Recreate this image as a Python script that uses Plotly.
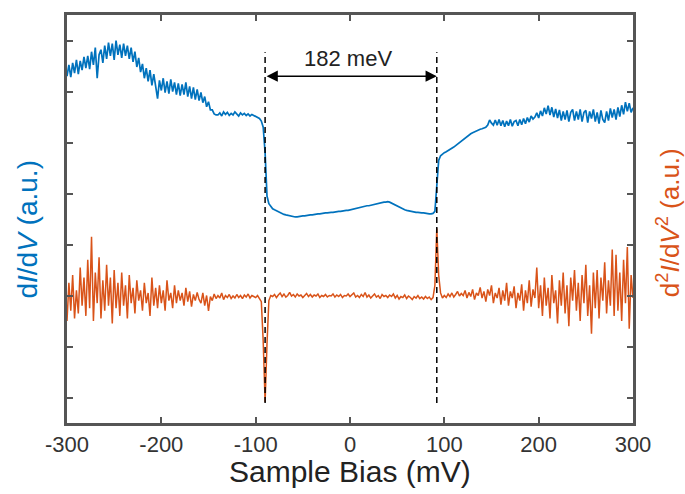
import plotly.graph_objects as go

# Sample bias grid (mV)
bias = [-300 + 2 * i for i in range(301)]

# dI/dV (a.u.)
didv = [
    6.80, 7.02, 6.78, 7.06, 6.86, 7.12, 6.84, 7.10, 6.92, 7.18,
    6.96, 7.20, 6.94, 7.28, 7.02, 7.36, 6.76, 7.22, 7.32, 7.06,
    7.40, 7.14, 7.46, 7.20, 7.44, 7.12, 7.50, 7.22, 7.42, 7.16,
    7.44, 7.20, 7.40, 7.14, 7.36, 7.08, 7.28, 6.98, 7.16, 6.88,
    7.04, 6.76, 6.96, 6.70, 6.92, 6.62, 6.84, 6.56, 6.36, 6.72,
    6.52, 6.76, 6.48, 6.70, 6.46, 6.74, 6.50, 6.68, 6.44, 6.66,
    6.42, 6.64, 6.44, 6.68, 6.40, 6.60, 6.36, 6.58, 6.34, 6.54,
    6.32, 6.48, 6.28, 6.40, 6.20, 6.30, 6.14, 6.14, 6.06, 6.04,
    6.04, 6.08, 6.02, 6.10, 6.05, 6.09, 6.03, 6.07, 6.04, 6.10,
    6.06, 6.02, 6.08, 6.04, 6.07, 6.03, 6.06, 6.02, 6.05, 6.03,
    6.02, 6.00, 5.97, 5.92, 5.80, 5.30, 4.45, 4.30, 4.24, 4.20,
    4.18, 4.16, 4.14, 4.12, 4.10, 4.09, 4.08, 4.07, 4.06, 4.05,
    4.05, 4.04, 4.04, 4.05, 4.05, 4.06, 4.06, 4.07, 4.07, 4.08,
    4.08, 4.09, 4.09, 4.10, 4.10, 4.11, 4.11, 4.12, 4.12, 4.13,
    4.13, 4.13, 4.14, 4.14, 4.15, 4.15, 4.16, 4.16, 4.17, 4.17,
    4.18, 4.19, 4.19, 4.20, 4.21, 4.22, 4.23, 4.24, 4.25, 4.26,
    4.26, 4.27, 4.28, 4.29, 4.30, 4.30, 4.31, 4.32, 4.33, 4.33,
    4.34, 4.33, 4.31, 4.29, 4.27, 4.25, 4.23, 4.21, 4.20, 4.18,
    4.17, 4.16, 4.15, 4.14, 4.14, 4.13, 4.13, 4.12, 4.12, 4.12,
    4.11, 4.11, 4.10, 4.10, 4.11, 4.15, 4.75, 5.15, 5.24, 5.28,
    5.30, 5.32, 5.34, 5.36, 5.38, 5.41, 5.44, 5.47, 5.50, 5.53,
    5.55, 5.58, 5.61, 5.64, 5.67, 5.69, 5.71, 5.73, 5.74, 5.76,
    5.77, 5.78, 5.80, 5.84, 5.94, 5.88, 5.84, 5.94, 5.84, 5.95,
    5.83, 5.93, 5.81, 5.92, 5.83, 5.95, 5.82, 5.91, 5.93, 5.83,
    5.95, 5.85, 5.97, 5.87, 5.99, 5.90, 6.02, 5.96, 6.00, 6.08,
    5.98, 6.12, 6.02, 6.18, 6.06, 6.22, 6.04, 6.19, 6.00, 6.16,
    5.98, 6.14, 5.93, 6.11, 5.95, 6.13, 5.91, 6.09, 6.15, 5.93,
    6.11, 5.95, 6.15, 5.91, 6.09, 6.13, 5.89, 6.11, 5.97, 6.15,
    5.91, 6.09, 5.87, 6.13, 5.95, 5.89, 6.11, 5.93, 6.17, 5.99,
    6.15, 5.95, 6.19, 6.01, 6.23, 6.05, 6.29, 6.11, 6.27, 6.09,
    6.18,
]

# d2I/dV2 (a.u.)
d2idv2 = [
    2.00, 2.75, 2.20, 2.90, 2.05, 2.60, 2.15, 3.05, 2.30, 2.85,
    2.10, 3.20, 2.25, 3.65, 2.00, 2.95, 2.35, 3.25, 2.05, 2.80,
    2.20, 3.10, 2.30, 2.85, 1.95, 3.00, 2.25, 2.75, 2.10, 2.95,
    2.30, 2.70, 2.05, 2.90, 2.35, 2.65, 2.15, 2.80, 2.40, 2.60,
    2.20, 2.75, 2.35, 2.55, 2.10, 2.85, 2.30, 2.65, 2.25, 2.70,
    2.35, 2.60, 2.20, 2.80, 2.40, 2.55, 2.25, 2.70, 2.35, 2.60,
    2.40, 2.55, 2.30, 2.65, 2.38, 2.58, 2.28, 2.52, 2.40, 2.56,
    2.42, 2.35, 2.55, 2.30, 2.50, 2.20, 2.48, 2.40, 2.53, 2.44,
    2.50, 2.45, 2.55, 2.42, 2.50, 2.46, 2.52, 2.44, 2.49, 2.45,
    2.52, 2.46, 2.50, 2.44, 2.51, 2.47, 2.53, 2.45, 2.50, 2.48,
    2.46, 2.50, 2.44, 2.38, 1.60, 0.41, 1.55, 2.40, 2.50, 2.48,
    2.52, 2.46, 2.51, 2.55, 2.48, 2.53, 2.47, 2.50, 2.56, 2.49,
    2.52, 2.47, 2.53, 2.49, 2.51, 2.46, 2.50, 2.54, 2.48, 2.52,
    2.47, 2.51, 2.49, 2.53, 2.46, 2.50, 2.48, 2.52, 2.47, 2.50,
    2.49, 2.53, 2.47, 2.51, 2.48, 2.52, 2.46, 2.50, 2.49, 2.53,
    2.48, 2.51, 2.55, 2.47, 2.50, 2.46, 2.52, 2.48, 2.56, 2.47,
    2.51, 2.45, 2.49, 2.53, 2.47, 2.50, 2.44, 2.52, 2.48, 2.50,
    2.46, 2.51, 2.48, 2.53, 2.45, 2.50, 2.43, 2.48, 2.46, 2.51,
    2.44, 2.49, 2.46, 2.42, 2.48, 2.45, 2.50, 2.44, 2.47, 2.43,
    2.48, 2.44, 2.47, 2.42, 2.46, 2.70, 3.82, 2.90, 2.55, 2.45,
    2.50, 2.46, 2.53, 2.48, 2.55, 2.47, 2.52, 2.58, 2.49, 2.54,
    2.50, 2.60, 2.45, 2.56, 2.48, 2.62, 2.42, 2.55, 2.50, 2.66,
    2.45, 2.58, 2.38, 2.62, 2.50, 2.70, 2.35, 2.55, 2.45, 2.65,
    2.32, 2.60, 2.40, 2.75, 2.30, 2.58, 2.45, 2.68, 2.25, 2.55,
    2.40, 2.72, 2.20, 2.60, 2.35, 2.80, 2.28, 2.62, 2.45, 3.05,
    2.25, 2.70, 2.10, 2.85, 2.30, 2.65, 2.05, 2.90, 2.35, 2.60,
    1.95, 2.80, 2.30, 2.95, 2.15, 2.70, 1.90, 2.85, 2.40, 3.00,
    2.20, 2.75, 2.00, 2.90, 2.35, 3.10, 2.10, 2.70, 1.75, 2.95,
    2.25, 3.00, 2.05, 2.85, 2.40, 3.15, 2.15, 2.80, 2.30, 3.40,
    2.10, 3.30, 2.20, 2.95, 2.00, 3.20, 2.35, 3.45, 1.85, 2.90,
    2.45,
]

x_ticks = [-300, -200, -100, 0, 100, 200, 300]
x_tick_labels = ["-300", "-200", "-100", "0", "100", "200", "300"]
y_ticks = [0.5, 1.5, 2.5, 3.5, 4.5, 5.5, 6.5, 7.5]

gap_edges = [-90, 92]
gap_label = "182 meV"

BLUE = "#0072BD"
ORANGE = "#D95319"
FRAME = "#555555"
FONT = "Liberation Sans, Arial, sans-serif"

fig = go.Figure()
fig.add_trace(go.Scatter(x=bias, y=d2idv2, mode="lines",
                         line=dict(color=ORANGE, width=1.5), yaxis="y2",
                         showlegend=False))
fig.add_trace(go.Scatter(x=bias, y=didv, mode="lines",
                         line=dict(color=BLUE, width=1.7),
                         showlegend=False))

for xe in gap_edges:
    fig.add_shape(type="line", x0=xe, x1=xe, y0=0.39, y1=7.27,
                  xref="x", yref="y",
                  line=dict(color="black", width=1.5, dash="6px,4px"))

# double-headed arrow
fig.add_annotation(x=gap_edges[1], y=6.8, ax=gap_edges[0], ay=6.8,
                   xref="x", yref="y", axref="x", ayref="y",
                   text="", showarrow=True, arrowhead=2, arrowside="end+start",
                   arrowsize=1.6, arrowwidth=1.4, arrowcolor="black")
fig.add_annotation(x=-2, y=7.15, xref="x", yref="y",
                   text=gap_label, showarrow=False,
                   font=dict(family=FONT, size=22, color="#222222"))

fig.add_annotation(x=-0.07, y=0.475, xref="paper", yref="paper",
                   text="d<i>I</i>/d<i>V</i> (a.u.)", textangle=-90,
                   showarrow=False, xanchor="center", yanchor="middle",
                   font=dict(family=FONT, size=28, color=BLUE))
fig.add_annotation(x=1.062, y=0.49, xref="paper", yref="paper",
                   text="d<sup>2</sup><i>I</i>/d<i>V</i><sup>2</sup> (a.u.)", textangle=-90,
                   showarrow=False, xanchor="center", yanchor="middle",
                   font=dict(family=FONT, size=26, color=ORANGE))
fig.add_annotation(x=0.5, y=-0.12, xref="paper", yref="paper",
                   text="Sample Bias (mV)", showarrow=False,
                   xanchor="center", yanchor="middle",
                   font=dict(family=FONT, size=30, color="#222222"))

fig.update_layout(
    width=685, height=494,
    margin=dict(l=67, r=52, t=15, b=71),
    paper_bgcolor="white", plot_bgcolor="white",
    font=dict(family=FONT, color="#333333"),
    xaxis=dict(range=[-300, 300], tickvals=x_ticks, ticktext=x_tick_labels,
               ticks="inside", ticklen=6, tickwidth=2, tickcolor=FRAME,
               showline=True, linecolor=FRAME, linewidth=2.5, mirror="ticks",
               showgrid=False, zeroline=False,
               tickfont=dict(family=FONT, size=22, color="#333333")),
    yaxis=dict(range=[0, 8], tickvals=y_ticks, showticklabels=False,
               ticks="inside", ticklen=6, tickwidth=2, tickcolor=FRAME,
               showline=True, linecolor=FRAME, linewidth=2.5, mirror="ticks",
               showgrid=False, zeroline=False),
    yaxis2=dict(range=[0, 8], overlaying="y", side="right",
                showticklabels=False, showgrid=False, zeroline=False,
                showline=False, ticks=""),
)

fig.write_html("out.html", config={"displayModeBar": False},
               post_script="document.body.style.margin='0';document.body.style.padding='0';")
